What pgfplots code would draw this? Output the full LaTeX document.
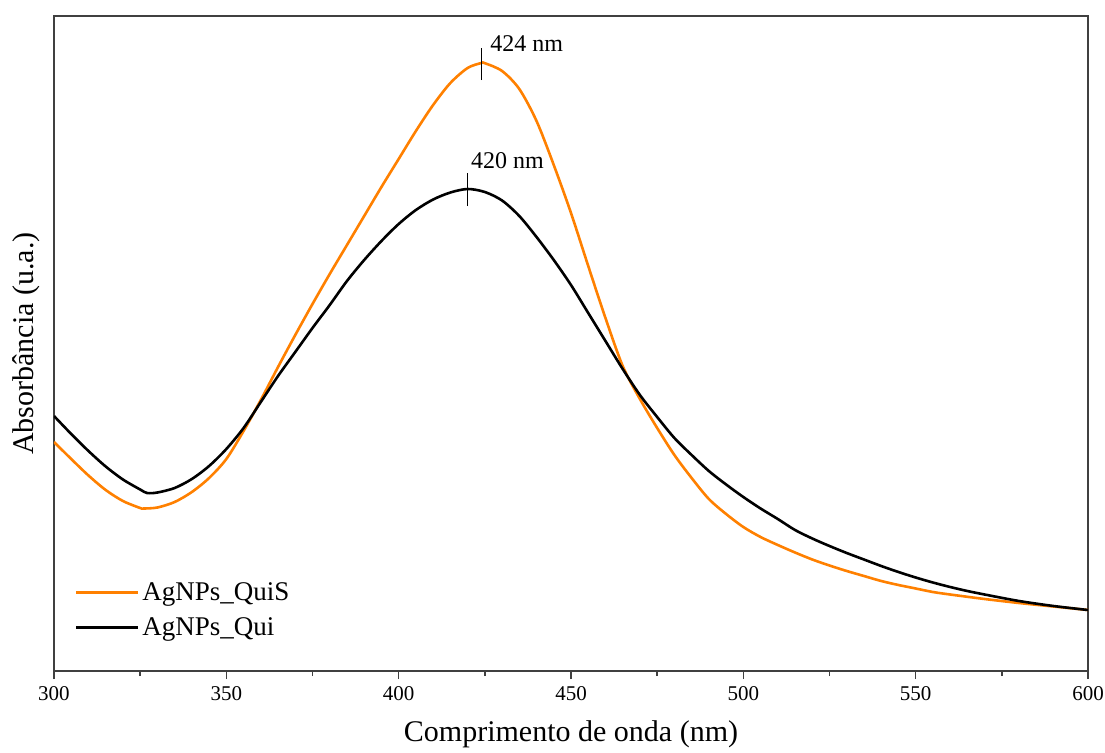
\documentclass[border=0pt]{standalone}
\usepackage{fontspec}
\setmainfont{Liberation Serif}
\usepackage{pgfplots}
\pgfplotsset{compat=1.18}
\definecolor{quis}{RGB}{255,128,0}

% AgNPs_QuiS
\pgfplotstableread{
nm   A
300  0.229
305  0.212
310  0.1955
315  0.181
320  0.170
325  0.163
326  0.1625
330  0.1635
335  0.169
340  0.179
345  0.193
350  0.212
355  0.240
360  0.271
365  0.304
370  0.336
375  0.367
380  0.397
385  0.426
390  0.455
395  0.484
400  0.512
405  0.540
410  0.566
415  0.588
420  0.603
424  0.608
425  0.6078
430  0.600
435  0.582
440  0.550
445  0.506
450  0.458
455  0.405
460  0.353
465  0.305
470  0.272
475  0.243
480  0.216
485  0.193
490  0.172
495  0.157
500  0.144
505  0.134
510  0.126
515  0.1185
520  0.1115
525  0.1055
530  0.100
535  0.095
540  0.090
545  0.086
550  0.0825
555  0.079
560  0.0765
570  0.072
580  0.068
590  0.0645
600  0.061
}\quis

% AgNPs_Qui
\pgfplotstableread{
nm   A
300  0.255
305  0.237
310  0.220
315  0.2045
320  0.1915
325  0.1815
327  0.178
330  0.1785
335  0.183
340  0.192
345  0.205
350  0.222
355  0.243
360  0.269
365  0.295
370  0.319
375  0.343
380  0.366
385  0.390
390  0.411
395  0.430
400  0.447
405  0.461
410  0.4715
415  0.4785
420  0.482
425  0.479
430  0.4705
435  0.455
440  0.434
445  0.411
450  0.386
455  0.358
460  0.330
465  0.302
470  0.276
475  0.254
480  0.233
485  0.216
490  0.200
495  0.1865
500  0.174
505  0.1625
510  0.152
515  0.141
520  0.1325
525  0.125
530  0.118
535  0.1115
540  0.105
545  0.099
550  0.0935
555  0.0885
560  0.084
565  0.080
570  0.0765
580  0.070
590  0.065
600  0.061
}\qui

\begin{document}
\begin{tikzpicture}
\useasboundingbox (-27pt,-40.5pt) rectangle (525.5pt,335.5pt);
\begin{axis}[
  at={(0,0)}, anchor=south west,
  scale only axis, width=517pt, height=327.5pt,
  xmin=300, xmax=600, ymin=0, ymax=0.655,
  xtick={300,350,...,600}, minor x tick num=1,
  ytick=\empty,
  xtick pos=bottom, tick align=outside,
  major tick length=4pt, minor tick length=2.5pt,
  every tick/.style={black!75, line width=0.7pt},
  axis line style={black!75, line width=1pt},
  tick label style={font=\fontsize{10.5}{12}\selectfont},
  /pgf/number format/assume math mode=true,
  xlabel={Comprimento de onda (nm)},
  ylabel={Absorbância (u.a.)},
  label style={font=\fontsize{15}{17}\selectfont},
  xlabel style={at={(axis description cs:0.5,0)}, anchor=north, yshift=-21.5pt},
  ylabel style={at={(axis description cs:-0.0068,0.5)}, anchor=south},
  legend style={draw=none, fill=none, at={(axis description cs:0.014,0.039)},
    anchor=south west, font=\fontsize{13.5}{16}\selectfont,
    nodes={inner sep=1.5pt}, row sep=4pt},
  legend cell align=left,
  legend image code/.code={\draw[#1] (0pt,0pt) -- (31pt,0pt);},
]
\addplot[quis, line width=1.3pt, smooth] table[x=nm, y=A] {\quis};
\addlegendentry{AgNPs\_QuiS}
\addplot[black, line width=1.3pt, smooth] table[x=nm, y=A] {\qui};
\addlegendentry{AgNPs\_Qui}

\draw[black, line width=0.5pt] (axis cs:424,0.591) -- (axis cs:424,0.623);
\node[anchor=base west, inner sep=0, font=\fontsize{12}{14}\selectfont]
  at (axis cs:426.5,0.620) {424 nm};
\draw[black, line width=0.5pt] (axis cs:420,0.465) -- (axis cs:420,0.498);
\node[anchor=base west, inner sep=0, font=\fontsize{12}{14}\selectfont]
  at (axis cs:420.9,0.503) {420 nm};
\end{axis}
\end{tikzpicture}
\end{document}
